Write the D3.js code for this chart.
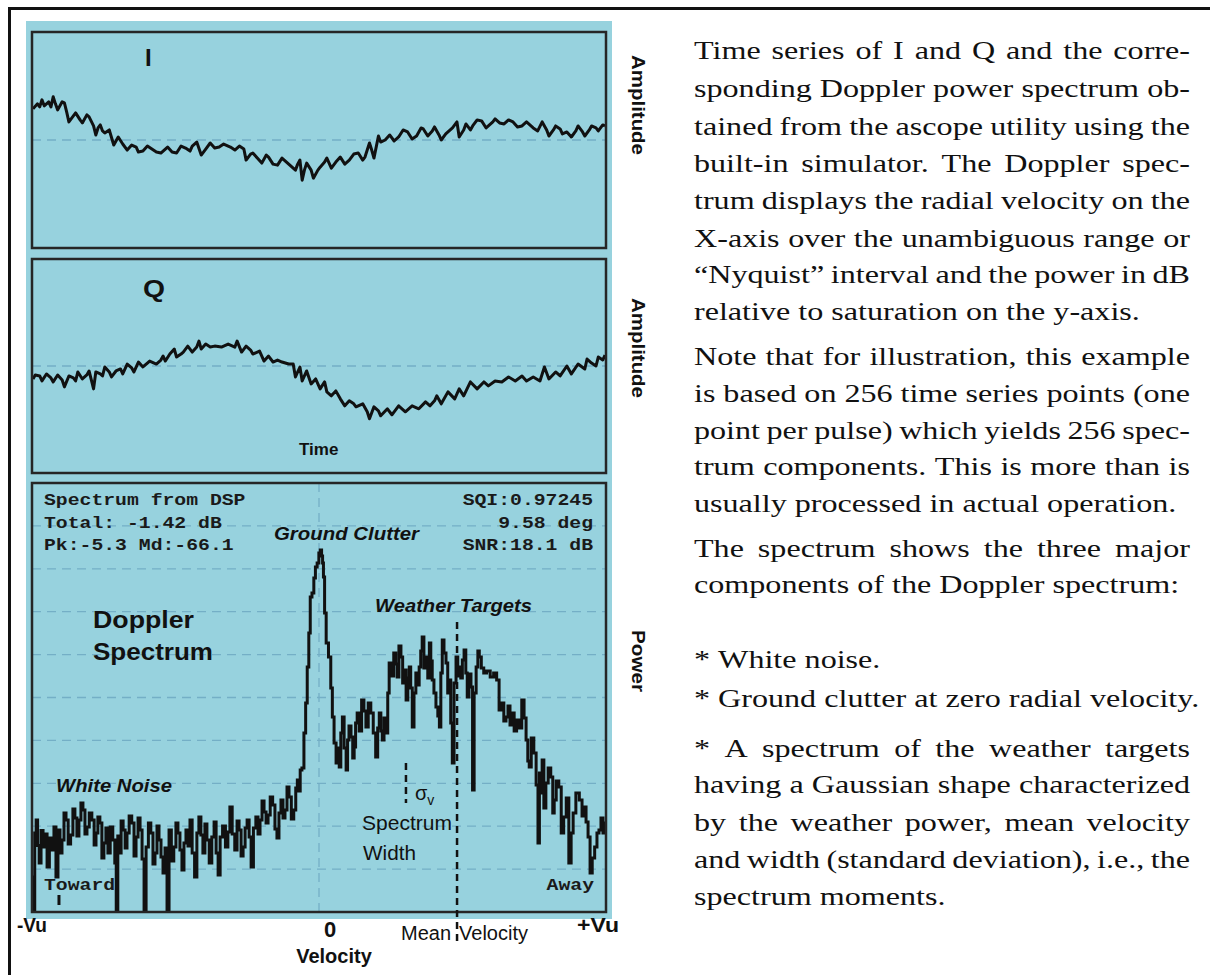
<!DOCTYPE html>
<html><head><meta charset="utf-8">
<script src="https://cdn.jsdelivr.net/npm/d3@7"></script>
<style>body{margin:0;background:#fff}svg{display:block}</style>
</head><body>
<svg id="c" width="1210" height="975"></svg>
<script>
// ---------- data ----------
// I and Q time series: [sample index (0..255), amplitude (arbitrary units)]
const iSeries = [[0,31],[2,36],[3,33],[4,40],[5,34],[7,38],[8,33],[9,43],[10,36],[11,30],[13,38],[14,37],[15,28],[16,18],[18,24],[19,27],[21,20],[22,17],[24,25],[25,23],[27,14],[28,5],[29,12],[30,15],[31,9],[32,7],[34,10],[36,-5],[37,-1],[38,3],[40,-4],[42,-10],[44,-5],[46,-7],[47,-12],[49,-11],[51,-6],[53,-9],[55,-12],[57,-13],[59,-9],[60,-7],[62,-12],[64,-13],[66,-6],[68,-8],[70,-11],[71,-6],[73,-2],[75,-15],[77,-9],[79,-3],[81,-8],[83,-7],[85,-4],[88,-7],[90,-10],[92,-6],[94,-9],[95,-20],[97,-14],[98,-13],[100,-18],[102,-23],[104,-15],[105,-17],[107,-24],[109,-25],[111,-18],[113,-22],[115,-26],[117,-30],[118,-24],[119,-20],[120,-40],[121,-30],[122,-23],[124,-30],[125,-38],[127,-30],[128,-27],[130,-22],[131,-18],[133,-28],[135,-22],[137,-17],[139,-24],[141,-20],[143,-14],[145,-13],[147,-20],[148,-17],[150,-3],[151,-10],[152,-18],[154,4],[155,-2],[157,0],[159,5],[161,-1],[163,3],[165,10],[167,8],[169,1],[171,4],[173,12],[174,11],[176,4],[178,9],[179,13],[181,5],[182,0],[184,6],[185,8],[187,12],[189,18],[190,3],[192,10],[193,16],[195,10],[196,14],[198,20],[200,19],[202,12],[203,14],[205,18],[206,21],[208,17],[210,16],[212,20],[214,18],[216,13],[218,14],[220,18],[221,16],[223,12],[225,9],[227,18],[229,10],[230,4],[232,10],[233,14],[235,11],[236,6],[238,8],[240,3],[242,9],[243,14],[245,8],[246,4],[248,10],[249,14],[251,12],[252,9],[254,15],[255,14]];
const qSeries = [[0,-13],[1,-9],[3,-10],[4,-15],[6,-8],[8,-12],[9,-16],[11,-9],[13,-14],[14,-21],[16,-10],[18,-12],[19,-15],[20,-6],[22,-13],[24,-9],[25,-5],[27,-23],[28,-6],[30,-8],[31,-10],[32,-1],[34,-6],[35,-11],[37,-5],[39,-3],[40,-8],[42,2],[44,-2],[45,-6],[47,4],[49,-1],[51,3],[52,5],[55,2],[57,6],[58,10],[59,5],[61,12],[63,17],[64,9],[66,12],[67,14],[69,20],[71,14],[73,19],[74,25],[75,17],[77,22],[79,19],[81,20],[84,19],[87,22],[90,19],[91,25],[93,14],[95,20],[97,16],[98,12],[101,15],[103,5],[105,10],[107,4],[109,6],[111,4],[114,2],[116,2],[117,-11],[119,-1],[120,-15],[122,-5],[124,-18],[126,-13],[128,-23],[130,-16],[131,-26],[133,-30],[135,-25],[137,-33],[139,-40],[141,-35],[143,-38],[144,-41],[147,-38],[149,-46],[150,-53],[152,-41],[154,-45],[155,-50],[158,-43],[160,-49],[161,-46],[163,-40],[166,-46],[168,-42],[169,-40],[172,-43],[175,-36],[177,-40],[179,-35],[180,-30],[182,-38],[185,-26],[188,-33],[190,-23],[192,-30],[195,-16],[198,-23],[201,-16],[203,-20],[206,-15],[209,-16],[212,-11],[215,-15],[218,-10],[220,-15],[223,-11],[226,-15],[228,-1],[230,-13],[233,-6],[235,-10],[238,0],[240,-8],[243,2],[246,-3],[247,7],[249,3],[251,0],[252,9],[254,6],[255,11]];
// Doppler spectrum: [velocity / Vu, power dB]
const spectrum = [[-0.997,-78.8],[-0.993,-85.8],[-0.988,-70.0],[-0.983,-67.4],[-0.978,-72.5],[-0.972,-76.0],[-0.965,-69.5],[-0.958,-72.8],[-0.951,-70.2],[-0.944,-76.8],[-0.935,-71.0],[-0.927,-73.4],[-0.920,-68.8],[-0.913,-78.8],[-0.906,-69.4],[-0.899,-74.0],[-0.892,-71.4],[-0.885,-66.0],[-0.878,-67.4],[-0.870,-72.2],[-0.861,-70.4],[-0.854,-65.2],[-0.847,-67.0],[-0.840,-70.6],[-0.833,-67.4],[-0.826,-64.0],[-0.819,-65.4],[-0.812,-70.2],[-0.805,-68.8],[-0.796,-66.0],[-0.787,-67.4],[-0.780,-72.4],[-0.774,-70.0],[-0.767,-66.8],[-0.760,-68.0],[-0.753,-75.0],[-0.746,-72.0],[-0.739,-69.0],[-0.732,-74.0],[-0.723,-68.8],[-0.714,-71.4],[-0.709,-76.0],[-0.704,-85.8],[-0.698,-70.6],[-0.693,-74.0],[-0.686,-67.6],[-0.679,-69.4],[-0.672,-73.0],[-0.666,-70.0],[-0.657,-66.6],[-0.648,-68.0],[-0.641,-74.6],[-0.634,-70.8],[-0.627,-67.0],[-0.620,-69.4],[-0.613,-75.2],[-0.606,-85.8],[-0.599,-72.8],[-0.590,-68.0],[-0.582,-70.0],[-0.575,-76.2],[-0.568,-74.0],[-0.561,-68.6],[-0.554,-71.4],[-0.547,-74.8],[-0.540,-78.0],[-0.533,-73.0],[-0.526,-85.8],[-0.519,-69.4],[-0.510,-75.6],[-0.502,-72.8],[-0.495,-68.0],[-0.488,-70.0],[-0.481,-73.4],[-0.474,-77.4],[-0.467,-72.0],[-0.460,-69.4],[-0.453,-72.6],[-0.446,-67.4],[-0.438,-74.0],[-0.429,-78.8],[-0.422,-70.0],[-0.415,-66.8],[-0.408,-70.4],[-0.401,-74.0],[-0.394,-68.2],[-0.387,-71.4],[-0.378,-76.0],[-0.369,-70.8],[-0.362,-67.8],[-0.355,-74.0],[-0.348,-78.4],[-0.341,-70.8],[-0.331,-68.6],[-0.321,-72.8],[-0.314,-69.8],[-0.307,-64.8],[-0.298,-70.2],[-0.289,-73.4],[-0.282,-67.6],[-0.275,-69.4],[-0.268,-74.6],[-0.261,-72.8],[-0.254,-69.0],[-0.247,-67.4],[-0.240,-70.8],[-0.233,-76.8],[-0.224,-69.0],[-0.216,-66.8],[-0.209,-70.2],[-0.202,-67.4],[-0.195,-63.6],[-0.188,-65.8],[-0.181,-68.0],[-0.174,-66.4],[-0.166,-62.8],[-0.157,-64.4],[-0.150,-69.2],[-0.143,-71.0],[-0.136,-66.0],[-0.129,-63.4],[-0.122,-67.0],[-0.115,-65.4],[-0.108,-60.8],[-0.101,-62.8],[-0.092,-67.2],[-0.084,-65.4],[-0.078,-61.0],[-0.073,-59.4],[-0.068,-61.6],[-0.063,-57.4],[-0.056,-57.0],[-0.049,-50.0],[-0.044,-44.0],[-0.038,-36.8],[-0.033,-30.0],[-0.028,-22.8],[-0.021,-22.0],[-0.015,-19.0],[-0.010,-16.8],[-0.003,-16.0],[0.002,-14.0],[0.007,-13.4],[0.011,-14.6],[0.014,-16.0],[0.017,-18.8],[0.022,-26.0],[0.028,-32.0],[0.038,-34.8],[0.044,-41.0],[0.049,-46.8],[0.056,-52.0],[0.063,-56.0],[0.068,-53.0],[0.073,-56.8],[0.079,-50.0],[0.084,-46.8],[0.091,-53.0],[0.098,-57.4],[0.101,-51.4],[0.108,-48.6],[0.115,-50.8],[0.120,-55.0],[0.125,-52.8],[0.130,-48.0],[0.136,-46.0],[0.144,-49.6],[0.153,-43.4],[0.160,-45.6],[0.167,-48.8],[0.176,-44.0],[0.185,-46.0],[0.193,-50.0],[0.202,-54.8],[0.207,-49.0],[0.213,-46.0],[0.218,-49.6],[0.223,-51.4],[0.230,-47.0],[0.237,-50.0],[0.242,-42.0],[0.247,-36.0],[0.256,-38.6],[0.265,-34.0],[0.270,-36.2],[0.275,-38.8],[0.282,-32.6],[0.289,-34.8],[0.294,-40.0],[0.300,-37.4],[0.307,-43.4],[0.312,-39.0],[0.317,-36.8],[0.322,-41.0],[0.328,-48.8],[0.334,-42.0],[0.341,-38.0],[0.346,-40.4],[0.352,-36.8],[0.357,-33.6],[0.362,-30.8],[0.369,-37.0],[0.376,-34.8],[0.382,-39.0],[0.387,-32.0],[0.392,-35.6],[0.397,-39.4],[0.404,-42.0],[0.411,-44.8],[0.417,-46.6],[0.422,-48.8],[0.427,-38.0],[0.432,-31.4],[0.439,-34.0],[0.446,-36.0],[0.451,-42.0],[0.456,-39.4],[0.462,-48.0],[0.467,-56.0],[0.474,-40.0],[0.481,-34.8],[0.486,-38.6],[0.491,-36.8],[0.497,-39.0],[0.502,-35.4],[0.509,-33.4],[0.514,-38.0],[0.519,-42.8],[0.526,-38.2],[0.533,-40.8],[0.537,-61.4],[0.544,-42.0],[0.551,-36.8],[0.556,-33.6],[0.561,-34.8],[0.570,-37.0],[0.578,-38.0],[0.590,-37.6],[0.603,-38.8],[0.614,-38.0],[0.624,-39.4],[0.631,-45.4],[0.640,-44.0],[0.648,-47.6],[0.655,-46.8],[0.662,-44.6],[0.669,-48.4],[0.676,-46.0],[0.684,-49.6],[0.693,-47.4],[0.702,-49.0],[0.711,-43.4],[0.718,-47.0],[0.725,-51.4],[0.730,-55.6],[0.735,-56.8],[0.744,-51.0],[0.753,-54.0],[0.760,-60.4],[0.766,-72.0],[0.770,-58.0],[0.775,-62.0],[0.780,-55.4],[0.787,-65.0],[0.794,-60.0],[0.803,-57.0],[0.812,-58.8],[0.817,-66.0],[0.822,-63.4],[0.831,-59.6],[0.840,-60.8],[0.848,-70.0],[0.857,-66.8],[0.866,-63.0],[0.875,-76.0],[0.882,-70.0],[0.889,-66.0],[0.901,-62.0],[0.913,-63.4],[0.920,-66.6],[0.927,-64.8],[0.934,-67.8],[0.941,-70.8],[0.948,-78.0],[0.956,-75.0],[0.965,-72.8],[0.972,-70.0],[0.979,-69.4],[0.986,-67.0],[0.993,-70.0],[1.0,-68.0]];
const meanVelocity = 0.481;    // dashed "Mean Velocity" marker (fraction of Vu)
const sigmaMarker = 0.303;     // dashed spectrum-width marker
const towardMarker = -0.906;   // small tick under "Toward"
const velocityTickLabels = ["-Vu", "0", "+Vu"];
const infoLeft = ["Spectrum from DSP", "Total: -1.42 dB", "Pk:-5.3 Md:-66.1"];
const infoRight = ["SQI:0.97245", "9.58 deg", "SNR:18.1 dB"];
const captionLines = [
  ["Time series of I and Q and the corre-", true],
  ["sponding Doppler power spectrum ob-", true],
  ["tained from the ascope utility using the", true],
  ["built-in simulator. The Doppler spec-", true],
  ["trum displays the radial velocity on the", true],
  ["X-axis over the unambiguous range or", true],
  ["\u201CNyquist\u201D interval and the power in dB", true],
  ["relative to saturation on the y-axis.", false],
  ["Note that for illustration, this example", true],
  ["is based on 256 time series points (one", true],
  ["point per pulse) which yields 256 spec-", true],
  ["trum components. This is more than is", true],
  ["usually processed in actual operation.", false],
  ["The spectrum shows the three major", true],
  ["components of the Doppler spectrum:", false],
  ["* White noise.", false],
  ["* Ground clutter at zero radial velocity.", false],
  ["* A spectrum of the weather targets", true],
  ["having a Gaussian shape characterized", true],
  ["by the weather power, mean velocity", true],
  ["and width (standard deviation), i.e., the", true],
  ["spectrum moments.", false]
];
const captionBaselines = [59,97,135,172,209,247,283,320,365,402,439,475,512,557,593,668,707,757,793,831,868,905];

// ---------- layout ----------
const BLUE = "#97d2de", GRID = "#74afc6", INK = "#111", FRAME = "#262626";
const SANS = "'Liberation Sans', Arial, Helvetica, sans-serif";
const SERIF = "'Liberation Serif', 'Times New Roman', serif";
const MONO = "'Liberation Mono', 'Courier New', monospace";
const L = 32, R = 606;
const P = { I:{top:32,bottom:248}, Q:{top:259,bottom:473}, S:{top:483,bottom:912} };

const svg = d3.select("#c");
// page border (left and top)
svg.append("line").attr("x1",9.5).attr("y1",7).attr("x2",9.5).attr("y2",975).attr("stroke",INK).attr("stroke-width",3);
svg.append("line").attr("x1",8).attr("y1",8.5).attr("x2",1210).attr("y2",8.5).attr("stroke",INK).attr("stroke-width",3);
// blue plate
svg.append("rect").attr("x",26).attr("y",21).attr("width",586).attr("height",898).attr("fill",BLUE);

const defs = svg.append("defs");
Object.entries(P).forEach(([k,p]) => {
  defs.append("clipPath").attr("id","clip"+k).append("rect")
    .attr("x",L).attr("y",p.top).attr("width",R-L).attr("height",p.bottom-p.top);
});

function dashedH(g, y){
  g.append("line").attr("x1",L).attr("x2",R).attr("y1",y).attr("y2",y)
    .attr("stroke",GRID).attr("stroke-width",1.3).attr("stroke-dasharray","9,6");
}

// ---------- I and Q panels ----------
const xT = d3.scaleLinear().domain([0,255]).range([L+1, R-1]);
function timePanel(key, data){
  const p = P[key];
  const y = d3.scaleLinear().domain([-107.5,107.5]).range([p.bottom, p.top]);
  const g = svg.append("g");
  dashedH(g, y(0));
  g.append("path").datum(data).attr("clip-path","url(#clip"+key+")")
    .attr("fill","none").attr("stroke",INK).attr("stroke-width",3).attr("stroke-linejoin","round")
    .attr("d", d3.line().x(d=>xT(d[0])).y(d=>y(d[1])));
  g.append("rect").attr("x",L).attr("y",p.top).attr("width",R-L).attr("height",p.bottom-p.top)
    .attr("fill","none").attr("stroke",FRAME).attr("stroke-width",2.5);
}
timePanel("I", iSeries);
timePanel("Q", qSeries);

// ---------- spectrum panel ----------
const S = P.S;
const xV = d3.scaleLinear().domain([-1,1]).range([L, R]);
const yP = d3.scaleLinear().domain([-85.8,0]).range([S.bottom, S.top]);
const sg = svg.append("g");
const [d0,d1] = yP.domain();
d3.range(1,10).forEach(k => dashedH(sg, yP(d0 + k*(d1-d0)/10)));
sg.append("line").attr("x1",xV(0)).attr("x2",xV(0)).attr("y1",S.top).attr("y2",S.bottom)
  .attr("stroke",GRID).attr("stroke-width",1.3).attr("stroke-dasharray","9,6");

// info text (monospace)
function mono(txt, x, y, anchor){
  sg.append("text").attr("x",x).attr("y",y).attr("text-anchor",anchor)
    .attr("font-family",MONO).attr("font-weight","bold").attr("font-size",16).attr("fill","#1a1a1a")
    .attr("textLength", txt.length*11.85).attr("lengthAdjust","spacingAndGlyphs").text(txt);
}
infoLeft.forEach((t,i)=>mono(t, 44, 505 + i*22.5, "start"));
infoRight.forEach((t,i)=>mono(t, 593, 505 + i*22.5, "end"));
mono("Toward", 44, 890, "start");
mono("Away", 594, 890, "end");

sg.append("path").datum(spectrum).attr("clip-path","url(#clipS)")
  .attr("fill","none").attr("stroke",INK).attr("stroke-width",3).attr("stroke-linejoin","miter")
  .attr("d", d3.line().curve(d3.curveStep).x(d=>xV(d[0])).y(d=>yP(d[1])));

// marker tick under "Toward"
sg.append("line").attr("x1",xV(towardMarker)).attr("x2",xV(towardMarker)).attr("y1",895).attr("y2",905)
  .attr("stroke",INK).attr("stroke-width",3);
// dashed sigma and mean-velocity markers
sg.append("line").attr("x1",xV(sigmaMarker)).attr("x2",xV(sigmaMarker)).attr("y1",763).attr("y2",803)
  .attr("stroke",INK).attr("stroke-width",2.5).attr("stroke-dasharray","7,5");
svg.append("line").attr("x1",xV(meanVelocity)).attr("x2",xV(meanVelocity)).attr("y1",622).attr("y2",943)
  .attr("stroke",INK).attr("stroke-width",2.5).attr("stroke-dasharray","7,5");

sg.append("rect").attr("x",L).attr("y",S.top).attr("width",R-L).attr("height",S.bottom-S.top)
  .attr("fill","none").attr("stroke",FRAME).attr("stroke-width",2.5);

// ---------- labels ----------
function label(txt, x, y, o){
  o = o || {};
  const t = svg.append("text").attr("x",x).attr("y",y)
    .attr("font-family", o.family || SANS).attr("font-size", o.size || 20)
    .attr("font-weight", o.weight || "bold").attr("font-style", o.style || "normal")
    .attr("text-anchor", o.anchor || "start").attr("fill", INK).text(txt);
  if (o.len) t.attr("textLength", o.len).attr("lengthAdjust","spacingAndGlyphs");
  if (o.rotate) t.attr("transform", `rotate(${o.rotate},${x},${y})`);
  return t;
}
label("I", 145, 66, {size:24});
label("Q", 143, 297, {size:24, len:22});
label("Time", 299, 455, {size:17});
label("Amplitude", 632, (P.I.top+P.I.bottom)/2 - 35, {size:19, anchor:"middle", rotate:90, len:100});
label("Amplitude", 632, (P.Q.top+P.Q.bottom)/2 - 18, {size:19, anchor:"middle", rotate:90, len:100});
label("Power", 632, 661, {size:19, anchor:"middle", rotate:90, len:62});
label("Ground Clutter", 274, 540, {size:19, style:"italic", len:145});
label("Weather Targets", 375, 612, {size:19, style:"italic", len:157});
label("Doppler", 93, 628, {size:23, len:101});
label("Spectrum", 93, 660, {size:23, len:120});
label("White Noise", 56, 792, {size:19, style:"italic", len:116});
const sig = label("\u03C3", 415, 800, {size:20, weight:"normal"});
sig.append("tspan").attr("font-size",14).attr("dy",5).text("v");
label("Spectrum", 362, 830, {size:21, weight:"normal", len:90});
label("Width", 363, 860, {size:21, weight:"normal", len:53});
label("Mean", xV(meanVelocity) - 6, 940, {size:20, weight:"normal", anchor:"end"});
label("Velocity", xV(meanVelocity) + 2, 940, {size:20, weight:"normal"});
label(velocityTickLabels[0], 17, 932, {size:20, len:30});
label(velocityTickLabels[1], xV(0) + 11, 937, {size:22, anchor:"middle"});
label(velocityTickLabels[2], 577, 932, {size:20, len:42});
label("Velocity", 334, 963, {size:20, anchor:"middle"});

// ---------- caption (justified serif text) ----------
const TX = 694, TW = 496, FS = 25;
const tg = svg.append("g").attr("font-family", SERIF).attr("font-size", FS).attr("fill","#111");
const probe = tg.append("text").text("having a Gaussian shape characterized");
const natural = probe.node().getComputedTextLength();
probe.remove();
const sx = TW / natural;
const inner = tg.append("g").attr("transform", `translate(${TX},0) scale(${sx},1)`);
const spaceW = FS * 0.25;
captionLines.forEach(([str, just], i) => {
  const words = str.split(" ");
  const t = inner.append("text").attr("y", captionBaselines[i]);
  const spans = words.map(w => t.append("tspan").text(w));
  const widths = spans.map(s => s.node().getComputedTextLength());
  const total = d3.sum(widths);
  const gap = (just && words.length > 1) ? (TW/sx - total)/(words.length - 1) : spaceW;
  let x = 0;
  spans.forEach((s,k) => { s.attr("x", x); x += widths[k] + gap; });
});
</script>
</body></html>
